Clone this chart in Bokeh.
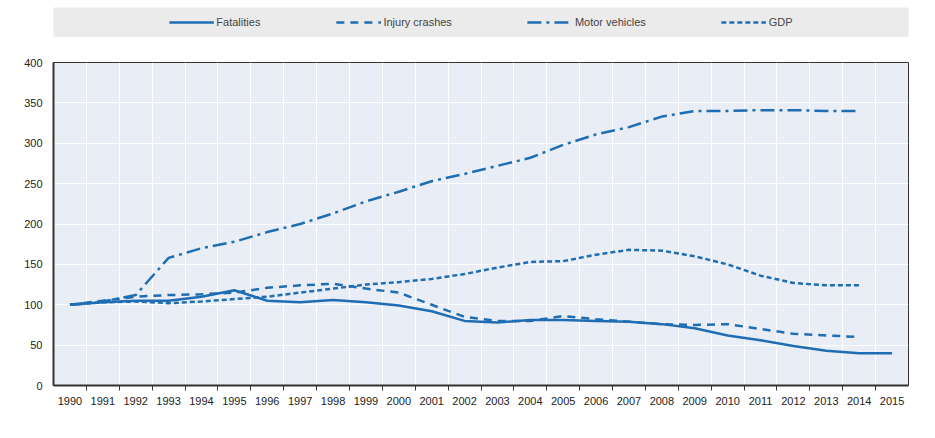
from bokeh.plotting import figure
from bokeh.models import FixedTicker, Legend, LegendItem, Label, ColumnDataSource
from bokeh.layouts import column
from bokeh.embed import file_html
from bokeh.resources import INLINE

years = list(range(1990, 2016))
fatalities = [100,103,105,105,110,118,105,103,106,103,99,92,80,78,81,81,80,79,76,71,62,56,49,43,40,40]
injury = [100,105,110,112,113,115,121,124,126,120,115,100,85,80,80,86,82,79,76,75,76,70,64,62,60,None]
vehicles = [100,104,112,158,170,178,190,200,213,228,240,253,262,272,282,298,311,320,333,340,340,341,341,340,340,None]
gdp = [100,103,104,102,104,107,110,115,120,125,128,132,138,146,153,154,162,168,167,160,150,136,127,124,124,None]
y_ticks = [0,50,100,150,200,250,300,350,400]

C = "#1f6db3"
FONT = "Liberation Sans"
nan = float("nan")
def clean(a): return [nan if v is None else v for v in a]

series = [("Fatalities", fatalities, "solid"), ("Injury crashes", injury, "8 6"),
          ("Motor vehicles", vehicles, "14 5 3 5"), ("GDP", gdp, "5 3")]

# legend strip
lg = figure(width=919, height=37, toolbar_location=None, output_backend="svg",
            x_range=(0, 1), y_range=(0, 1), min_border_left=25, min_border_right=4,
            min_border_top=7, min_border_bottom=0)
lg.axis.visible = False
lg.grid.visible = False
lg.outline_line_color = None
lg.background_fill_color = "#ebebeb"
items = []
for name, data, dash in series:
    r = lg.line([5, 6], [5, 6], line_color=C, line_width=2.5, line_dash=dash)
    items.append(LegendItem(label=name, renderers=[r]))
leg = Legend(items=items, orientation="horizontal", location="center",
             background_fill_alpha=0, border_line_color=None, spacing=75,
             label_text_font=FONT, label_text_font_size="11px", glyph_width=45,
             label_standoff=3, padding=0, margin=0)
lg.add_layout(leg, "center")

p = figure(width=919, height=385, toolbar_location=None, output_backend="svg",
           x_range=(1989.5, 2015.5), y_range=(0, 400),
           min_border_left=53, min_border_right=11, min_border_top=25, min_border_bottom=37)
p.background_fill_color = "#e9edf5"
p.outline_line_color = "#333333"
p.grid.grid_line_color = "white"
p.grid.grid_line_width = 1
p.xgrid.ticker = FixedTicker(ticks=[y + 0.5 for y in years[:-1]])
p.xaxis.ticker = FixedTicker(ticks=years, minor_ticks=[y + 0.5 for y in years[:-1]])
p.xaxis.major_tick_line_color = None
p.xaxis.minor_tick_line_color = "#333333"
p.xaxis.minor_tick_out = 5
p.xaxis.minor_tick_in = 0
p.yaxis.ticker = FixedTicker(ticks=y_ticks)
p.yaxis.major_tick_line_color = None
p.yaxis.minor_tick_line_color = None
p.axis.axis_line_color = "#333333"
p.axis.axis_line_width = 2
p.axis.major_label_text_font = FONT
p.axis.major_label_text_font_size = "11px"
p.axis.major_label_text_color = "#222222"

for name, data, dash in series:
    src = ColumnDataSource(dict(x=years, y=clean(data)))
    p.line("x", "y", source=src, line_color=C, line_width=2.5, line_dash=dash)

p.add_layout(Label(x=-48, y=-37, x_units="screen", y_units="screen",
                   text="Source:  World Bank for Gross Domestic Product (GDP; constant prices).",
                   text_font="Liberation Serif", text_font_size="11px",
                   text_color="#222222", level="overlay"))

lay = column(lg, p, spacing=0)
open("out.html", "w").write(file_html(lay, INLINE))
